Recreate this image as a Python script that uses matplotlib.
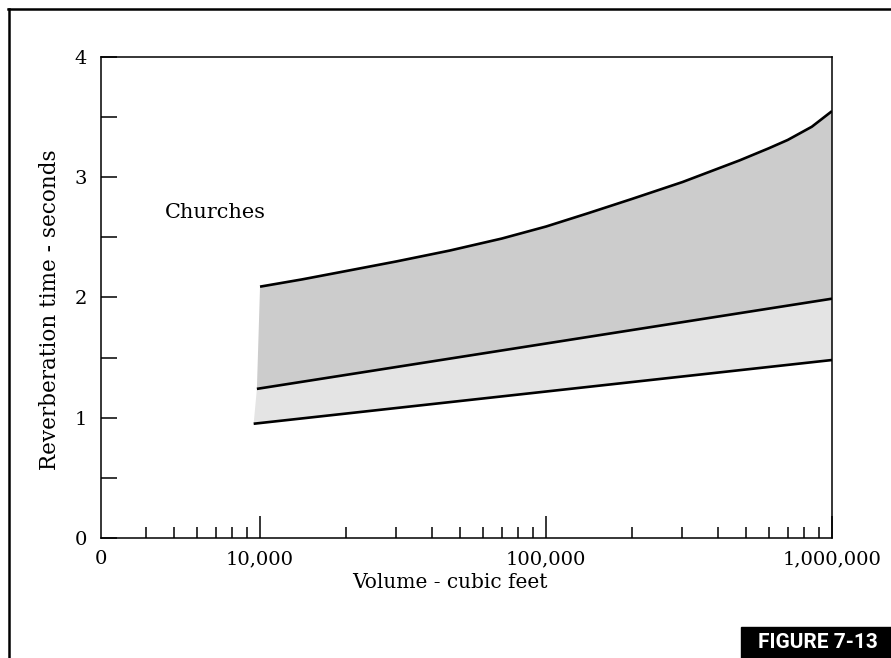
import numpy as np
import matplotlib
matplotlib.use("Agg")
import matplotlib.pyplot as plt
from matplotlib.lines import Line2D
from matplotlib.patches import Rectangle

# (volume in cubic feet, time in seconds)
top_volume = [10000, 14000, 20000, 30000, 46000, 70000, 100000, 140000,
              200000, 300000, 475000, 600000, 700000, 850000, 1000000]
top_time = [2.09, 2.15, 2.22, 2.30, 2.39, 2.49, 2.59, 2.70,
            2.82, 2.96, 3.14, 3.24, 3.31, 3.42, 3.55]

mid_volume = [9750, 1000000]
mid_time = [1.24, 1.99]

low_volume = [9500, 1000000]
low_time = [0.95, 1.48]

x_ticks = [2780, 10000, 100000, 1000000]
x_tick_labels = ["0", "10,000", "100,000", "1,000,000"]
y_ticks = [0, 1, 2, 3, 4]
y_minor = [0.5, 1.5, 2.5, 3.5]

plt.rcParams['font.family'] = ['DejaVu Serif']

fig = plt.figure(figsize=(8.91, 6.58), dpi=100)
ax = fig.add_axes([0.1134, 0.1824, 0.8204, 0.7310])

# shaded bands
dark_x = np.concatenate([top_volume, mid_volume[::-1]])
dark_y = np.concatenate([top_time, mid_time[::-1]])
ax.fill(dark_x, dark_y, color='#cccccc', lw=0)
light_x = np.concatenate([mid_volume, low_volume[::-1]])
light_y = np.concatenate([mid_time, low_time[::-1]])
ax.fill(light_x, light_y, color='#e4e4e4', lw=0)

for vx, vy in [(top_volume, top_time), (mid_volume, mid_time), (low_volume, low_time)]:
    ax.plot(vx, vy, color='black', lw=1.9, solid_capstyle='butt', solid_joinstyle='round')

ax.set_xscale('log')
ax.set_xlim(2780, 1e6)
ax.set_ylim(0, 4)

ax.set_xticks(x_ticks)
ax.set_xticklabels(x_tick_labels)
minor_x = [k * 10**e for e in (3, 4, 5) for k in range(2, 10) if k * 10**e >= 4000]
ax.set_xticks(minor_x, minor=True)
ax.xaxis.set_minor_formatter(matplotlib.ticker.NullFormatter())
ax.xaxis.get_major_ticks()[0].tick1line.set_visible(False)

ax.set_yticks(y_ticks)
ax.set_yticks(y_minor, minor=True)

ax.tick_params(axis='x', which='major', direction='in', length=16, width=1.1, labelsize=14, pad=9)
ax.tick_params(axis='x', which='minor', direction='in', length=8, width=1.1)
ax.tick_params(axis='y', which='both', direction='in', length=11.5, width=1.1, labelsize=14, pad=10)
ax.tick_params(top=False, right=False, which='both')

for s in ax.spines.values():
    s.set_linewidth(1.1)

fig.text(165 / 891, 1 - 212 / 658, "Churches", fontsize=15, va='center', ha='left')
fig.text(450 / 891, 1 - 583 / 658, "Volume - cubic feet", fontsize=14.5,
         ha='center', va='center')
fig.text(50 / 891, 1 - 310 / 658, "Reverberation time - seconds", fontsize=15.5,
         ha='center', va='center', rotation=90)

# outer frame (left and top only)
fig.add_artist(Line2D([8.5 / 891, 8.5 / 891], [0, 1 - 8.5 / 658], color='black', lw=1.8,
                      transform=fig.transFigure))
fig.add_artist(Line2D([7.5 / 891, 1], [1 - 8.5 / 658, 1 - 8.5 / 658], color='black', lw=1.8,
                      transform=fig.transFigure))

# figure number box
fig.add_artist(Rectangle((741 / 891, 0), 150 / 891, 31 / 658, color='black',
                         transform=fig.transFigure))
fig.text(818 / 891, 15 / 658, "FIGURE 7-13", color='white', fontsize=15,
         fontweight='bold', family=['Roboto', 'DejaVu Sans'],
         ha='center', va='center')

fig.savefig('out.png', dpi=100)
